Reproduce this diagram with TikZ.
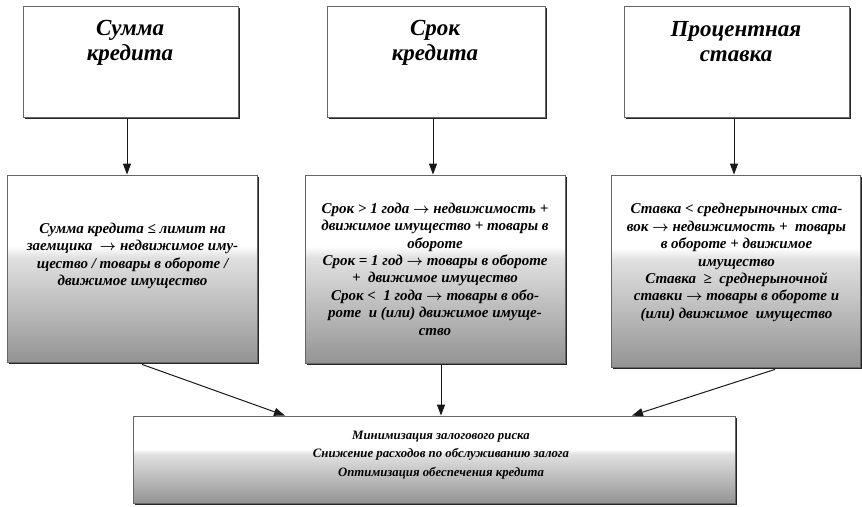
\documentclass[tikz,border=0pt]{standalone}
\usepackage{fontspec}
\setmainfont{Liberation Serif}
\usetikzlibrary{arrows.meta,shadows}
\newcommand{\rarr}{\mbox{\boldmath$\rightarrow$}}
\pgfdeclareverticalshading{boxshade}{100bp}{color(0bp)=(black!42); color(25bp)=(black!42); color(53bp)=(black!12); color(56bp)=(white); color(100bp)=(white)}
\begin{document}
\begin{tikzpicture}[x=1pt,y=-1pt,
  box/.style={draw=black!60, line width=0.8pt, rectangle, inner sep=0pt,
    drop shadow={shadow xshift=2pt, shadow yshift=-2.2pt, fill=black!85, opacity=1}},
  topbox/.style={box, fill=white},
  gradbox/.style={box, shading=boxshade},
  titletxt/.style={align=center, inner sep=0pt, font=\bfseries\itshape\fontsize{23}{25}\selectfont},
  midtxt/.style={align=center, inner sep=0pt, font=\bfseries\itshape\fontsize{15}{17.4}\selectfont},
  bottxt/.style={align=center, inner sep=0pt, font=\bfseries\itshape\fontsize{12.8}{18.5}\selectfont},
  arr/.style={draw=black!90, line width=1pt, -{Triangle[length=11pt,width=8pt]}}
]
\useasboundingbox (0,0) rectangle (862,506);
% top boxes
\node[topbox, minimum width=215pt, minimum height=111pt] (t1) at (130.5,61.5) {};
\node[topbox, minimum width=218pt, minimum height=111pt] (t2) at (436,61.5) {};
\node[topbox, minimum width=225pt, minimum height=111pt] (t3) at (736.5,61.5) {};
\node[titletxt] (t1txt) at (130,43) {Сумма\\кредита};
\node[titletxt] (t2txt) at (435,43) {Срок\\кредита};
\node[titletxt] (t3txt) at (736,42) {Процентная\\ставка};
% middle boxes
\node[gradbox, minimum width=250pt, minimum height=187pt] (m1) at (132,268.5) {};
\node[gradbox, minimum width=260pt, minimum height=188pt] (m2) at (435,269) {};
\node[gradbox, minimum width=249pt, minimum height=192pt] (m3) at (735.5,271) {};
\node[midtxt] (m1txt) at (132.5,256) {Сумма кредита ≤ лимит на\\заемщика ~\rarr{} недвижимое иму-\\щество / товары в обороте /\\движимое имущество};
\node[midtxt] (m2txt) at (435,269) {Срок > 1 года \rarr{} недвижимость +\\движимое имущество + товары в\\обороте\\Срок = 1 год \rarr{} товары в обороте\\+ ~движимое имущество\\Срок < ~1 года \rarr{} товары в обо-\\роте ~и (или) движимое имуще-\\ство};
\node[midtxt] (m3txt) at (736.5,262.5) {Ставка < среднерыночных ста-\\вок \rarr{} недвижимость + ~товары\\в обороте + движимое\\имущество\\Ставка ~≥ ~среднерыночной\\ставки \rarr{} товары в обороте и\\(или) движимое ~имущество};
% bottom box
\node[gradbox, minimum width=602pt, minimum height=87pt] (b) at (434,459.5) {};
\node[bottxt] (btxt) at (441,455) {Минимизация залогового риска\\Снижение расходов по обслуживанию залога\\Оптимизация обеспечения кредита};
% arrows
\draw[arr] ([xshift=-3.5pt,yshift=-2pt]t1.south) -- ([xshift=-5pt]m1.north);
\draw[arr] ([xshift=-3pt,yshift=-2pt]t2.south) -- ([xshift=-2pt]m2.north);
\draw[arr] ([xshift=-2.5pt,yshift=-2pt]t3.south) -- ([xshift=-1.5pt]m3.north);
\draw[arr] ([xshift=10pt,yshift=-2pt]m1.south) -- ([xshift=-149pt]b.north);
\draw[arr] ([xshift=6pt,yshift=-2pt]m2.south) -- ([xshift=7pt]b.north);
\draw[arr] ([xshift=39.5pt,yshift=-2pt]m3.south) -- ([xshift=198pt]b.north);
\end{tikzpicture}
\end{document}
